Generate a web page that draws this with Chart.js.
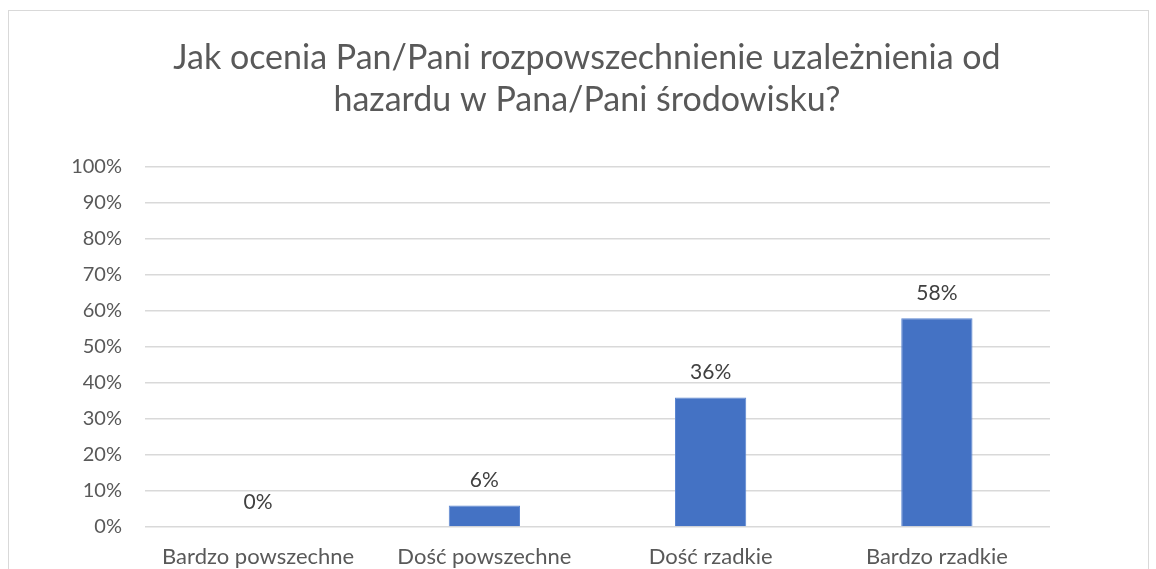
<!DOCTYPE html>
<html>
<head>
<meta charset="utf-8">
<script src="https://cdn.jsdelivr.net/npm/chart.js@4"></script>
<style>
    body { margin: 0; background: #fff; }
    #wrap { position: relative; width: 1156px; height: 569px; overflow: hidden; }
    #frame { position: absolute; left: 8px; top: 10px; width: 1139px; height: 600px; border: 1px solid #d9d9d9; }
    canvas { position: absolute; left: 0; top: 0; }
</style>
</head>
<body>
<div id="wrap">
    <div id="frame"></div>
    <canvas id="chart" width="1156" height="569"></canvas>
</div>
<script>
const titleLines = ['Jak ocenia Pan/Pani rozpowszechnienie uzależnienia od', 'hazardu w Pana/Pani środowisku?'];
const categories = ['Bardzo powszechne', 'Dość powszechne', 'Dość rzadkie', 'Bardzo rzadkie'];
const values = [0, 6, 36, 58];
const yTicks = [0, 10, 20, 30, 40, 50, 60, 70, 80, 90, 100];

const FONT = 'Lato, "Open Sans", sans-serif';

/* --- title, centred on the whole frame rather than the plot --- */
const frameTitle = {
    id: 'frameTitle',
    afterDraw(chart) {
        const ctx = chart.ctx;
        ctx.save();
        ctx.font = '34px ' + FONT;
        ctx.fillStyle = '#595959';
        ctx.textAlign = 'center';
        ctx.textBaseline = 'middle';
        titleLines.forEach((line, i) => ctx.fillText(line, 587, 58 + i * 42));
        ctx.restore();
    }
};

/* --- data labels above bars --- */
const valueLabels = {
    id: 'valueLabels',
    afterDatasetsDraw(chart) {
        const ctx = chart.ctx;
        const meta = chart.getDatasetMeta(0);
        ctx.save();
        ctx.font = '21px ' + FONT;
        ctx.fillStyle = '#404040';
        ctx.textAlign = 'center';
        ctx.textBaseline = 'middle';
        meta.data.forEach((bar, i) => {
            ctx.fillText(values[i] + '%', bar.x, bar.y - 25);
        });
        ctx.restore();
    }
};

new Chart(document.getElementById('chart'), {
    type: 'bar',
    data: {
        labels: categories,
        datasets: [{
            data: values,
            backgroundColor: '#4472c4',
            borderColor: '#5b86d0',
            borderWidth: 1,
            barPercentage: 0.63,
            categoryPercentage: 0.5
        }]
    },
    options: {
        responsive: false,
        animation: false,
        layout: { padding: { left: 0, right: 106, top: 167, bottom: 0 } },
        plugins: {
            legend: { display: false },
            tooltip: { enabled: false },
            title: { display: false }
        },
        scales: {
            y: {
                min: 0,
                max: 100,
                afterBuildTicks: scale => { scale.ticks = yTicks.map(v => ({ value: v })); },
                afterFit: scale => { scale.width = 145; },
                border: { display: false },
                grid: { color: '#d9d9d9', lineWidth: 1.5, drawTicks: false },
                ticks: {
                    padding: 23,
                    color: '#595959',
                    font: { family: FONT, size: 20 },
                    callback: v => v + '%'
                }
            },
            x: {
                afterFit: scale => { scale.height = 42; },
                border: { display: false },
                grid: { display: false, drawTicks: false },
                ticks: {
                    padding: 17,
                    color: '#595959',
                    font: { family: FONT, size: 22 }
                }
            }
        }
    },
    plugins: [valueLabels, frameTitle]
});
</script>
</body>
</html>
